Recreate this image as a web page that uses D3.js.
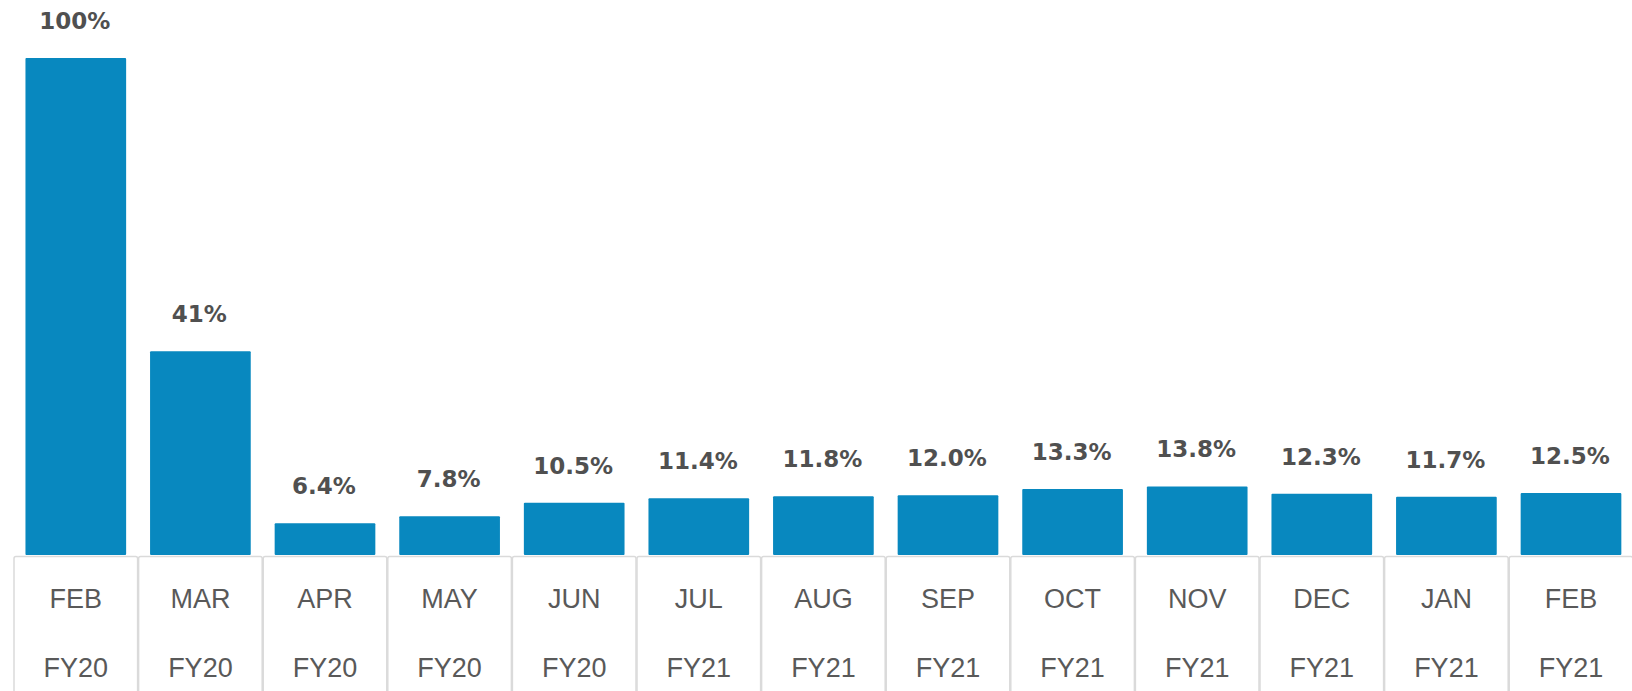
<!DOCTYPE html>
<html>
<head>
<meta charset="utf-8">
<script src="https://cdn.jsdelivr.net/npm/d3@7"></script>
<style>
  html, body { margin: 0; padding: 0; background: #ffffff; overflow: hidden; }
  svg { display: block; }
</style>
</head>
<body>
<svg id="chart" width="1632" height="691"></svg>
<script>
const months = ["FEB","MAR","APR","MAY","JUN","JUL","AUG","SEP","OCT","NOV","DEC","JAN","FEB"];
const fiscalYears = ["FY20","FY20","FY20","FY20","FY20","FY21","FY21","FY21","FY21","FY21","FY21","FY21","FY21"];
const values = [100, 41, 6.4, 7.8, 10.5, 11.4, 11.8, 12.0, 13.3, 13.8, 12.3, 11.7, 12.5];
const valueLabels = ["100%","41%","6.4%","7.8%","10.5%","11.4%","11.8%","12.0%","13.3%","13.8%","12.3%","11.7%","12.5%"];

const W = 1632, H = 691;
const svg = d3.select("#chart");
const ids = d3.range(values.length);

const x = d3.scaleBand().domain(ids).range([13.5, 13.5 + 124.6 * 13]).paddingInner(0.192).paddingOuter(0.096);
const y = d3.scaleLinear().domain([0, 100]).range([555, 58]);

const step = x.step();
const cellLeft = i => x(i) - x.paddingInner() * step / 2;

// table cells
svg.append("g").selectAll("rect").data(ids).join("rect")
  .attr("x", i => cellLeft(i) + 0.5)
  .attr("y", 556.5)
  .attr("width", step - 1)
  .attr("height", H)
  .attr("rx", 2)
  .attr("fill", "#ffffff")
  .attr("stroke", "#dadada")
  .attr("stroke-width", 1.5);

// bars
svg.append("g").selectAll("rect").data(ids).join("rect")
  .attr("x", i => x(i))
  .attr("y", i => y(values[i]))
  .attr("width", x.bandwidth())
  .attr("height", i => y(0) - y(values[i]))
  .attr("rx", 1)
  .attr("fill", "#0888bf");

// value labels
svg.append("g").selectAll("text").data(ids).join("text")
  .attr("x", i => x(i) + x.bandwidth() / 2 - 1)
  .attr("y", i => y(values[i]) - 29)
  .attr("text-anchor", "middle")
  .attr("font-family", "'DejaVu Sans', sans-serif")
  .attr("font-weight", "bold")
  .attr("font-size", 23)
  .attr("fill", "#505050")
  .text(i => valueLabels[i]);

// month labels
svg.append("g").selectAll("text").data(ids).join("text")
  .attr("x", i => x(i) + x.bandwidth() / 2)
  .attr("y", 607.5)
  .attr("text-anchor", "middle")
  .attr("font-family", "'Liberation Sans', Arial, sans-serif")
  .attr("font-size", 27)
  .attr("fill", "#595959")
  .text(i => months[i]);

// fiscal year labels
svg.append("g").selectAll("text").data(ids).join("text")
  .attr("x", i => x(i) + x.bandwidth() / 2)
  .attr("y", 677)
  .attr("text-anchor", "middle")
  .attr("font-family", "'Liberation Sans', Arial, sans-serif")
  .attr("font-size", 27)
  .attr("fill", "#595959")
  .text(i => fiscalYears[i]);
</script>
</body>
</html>
